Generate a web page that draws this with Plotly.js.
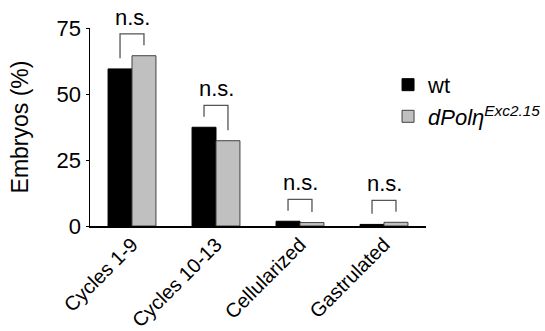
<!DOCTYPE html>
<html>
<head>
<meta charset="utf-8">
<script src="https://cdn.plot.ly/plotly-3.0.1.min.js"></script>
<style>html,body{margin:0;padding:0;background:#fff;}#chart{width:545px;height:331px;}</style>
</head>
<body>
<div id="chart"></div>
<script>
const categories = ["Cycles 1-9", "Cycles 10-13", "Cellularized", "Gastrulated"];
const wtValues = [59.5, 37.4, 1.8, 0.6];
const mutantValues = [64.5, 32.3, 1.3, 1.4];
const significance = ["n.s.", "n.s.", "n.s.", "n.s."];
const yTicks = [0, 25, 50, 75];
const seriesNames = ["wt", "<i>dPolη</i><sup><i>Exc2.15</i></sup>"];

const FONT = "Liberation Sans, Arial, sans-serif";
const BARGAP = 0.43;
const half = (1 - BARGAP) / 4; // bar centre offset from category centre

const shapes = [];
const annotations = [];
categories.forEach((c, i) => {
  const a = wtValues[i], b = mutantValues[i];
  const legA = Math.max(a + 4, 4.2);
  const legB = Math.max(b + 4, 4.2);
  const top = Math.max(Math.max(a, b) + 8.3, 8.6);
  const lineStyle = {color: "#555", width: 1.3};
  shapes.push({type: "path", xref: "x", yref: "y",
    path: `M ${i - half} ${legA} L ${i - half} ${top} L ${i + half} ${top} L ${i + half} ${legB}`,
    line: lineStyle});
  annotations.push({x: i, y: top, xref: "x", yref: "y", text: significance[i],
    showarrow: false, yanchor: "bottom", yshift: 2,
    font: {family: FONT, size: 22, color: "#000"}});
});

const data = [
  {type: "bar", name: seriesNames[0], x: categories, y: wtValues,
   marker: {color: "#000", line: {color: "#000", width: 1}}},
  {type: "bar", name: seriesNames[1], x: categories, y: mutantValues,
   marker: {color: "#c0c0c0", line: {color: "#404040", width: 1}}}
];

const layout = {
  width: 545, height: 331,
  margin: {l: 90, r: 119, t: 28, b: 105, autoexpand: false},
  paper_bgcolor: "#fff", plot_bgcolor: "#fff",
  barmode: "group", bargap: BARGAP, bargroupgap: 0,
  font: {family: FONT, size: 22, color: "#000"},
  xaxis: {
    type: "category", tickangle: -45, showline: true, linecolor: "#000", linewidth: 2,
    ticks: "", showgrid: false, zeroline: false, ticklabelstandoff: -3,
    tickfont: {family: FONT, size: 20, color: "#000"}, automargin: false
  },
  yaxis: {
    range: [0, 75], tickvals: yTicks, ticktext: yTicks.map(String),
    showline: true, linecolor: "#000", linewidth: 1.5, ticks: "outside", ticklen: 3, tickcolor: "#000",
    showgrid: false, zeroline: false,
    tickfont: {family: FONT, size: 22, color: "#000"},
    title: {text: "Embryos (%)", font: {family: FONT, size: 23, color: "#000"}, standoff: 21},
    automargin: false
  },
  legend: {xref: "container", yref: "container", x: 0.712, xanchor: "left", y: 0.807, yanchor: "top",
    font: {family: FONT, size: 22, color: "#000"}, tracegroupgap: 0, itemwidth: 30,
    bgcolor: "rgba(0,0,0,0)"},
  showlegend: true,
  shapes: shapes,
  annotations: annotations
};

Plotly.newPlot("chart", data, layout, {displayModeBar: false, staticPlot: true});
</script>
</body>
</html>
